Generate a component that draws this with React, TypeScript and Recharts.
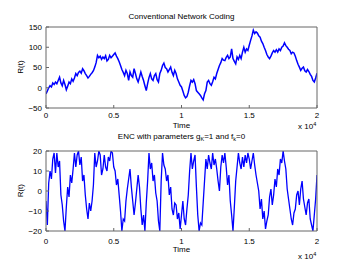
import React from 'react';
import { LineChart, Line, XAxis, YAxis } from 'recharts';

const TIME_STEP = 100;

const conventional = [
  -15, -8, 0, 5, 2, 12, 8, 14, 10, 18,
  26, 12, 5, 18, 8, -5, 4, 14, 10, 22,
  16, 24, 35, 30, 38, 41, 36, 47, 42, 35,
  30, 24, 28, 33, 37, 42, 51, 62, 80, 74,
  78, 70, 76, 72, 79, 66, 70, 80, 74, 78,
  82, 86, 78, 72, 64, 55, 45, 38, 30, 43,
  35, 18, 39, 30, 26, 47, 35, 22, 14, 26,
  39, 28, 18, 5, -7, 10, 25, 35, 22, 18,
  30, 35, 20, 14, 35, 43, 55, 61, 50, 47,
  39, 45, 51, 38, 30, 43, 35, 22, 14, 6,
  2, -8, -19, -25, -22, -11, 5, 18, 14, 20,
  10, -7, -11, -15, -19, -25, -30, -15, -7, 14,
  18, 10, 6, 15, 26, 22, 35, 45, 55, 62,
  72, 68, 67, 75, 80, 72, 76, 96, 72, 65,
  59, 76, 70, 80, 72, 88, 100, 88, 96, 92,
  105, 117, 128, 142, 134, 138, 135, 128, 125, 115,
  109, 100, 92, 82, 76, 72, 78, 86, 92, 88,
  94, 88, 96, 92, 100, 103, 111, 104, 100, 95,
  92, 84, 88, 86, 78, 67, 58, 51, 43, 48,
  51, 42, 39, 45, 40, 33, 28, 18, 14, 24,
  36,
];

const enc = [
  -5, -17, 4, 10, 6, 16, 19, 9, 19, 12,
  15, -2, -7, -15, -20, -8, 2, -3, 8, 4,
  11, 19, 12, 18, 20, 13, 17, 5, 8, -2,
  -9, -14, -6, -10, -5, 3, 19, 12, 15, 20,
  18, 8, 11, 18, 12, 10, 17, 15, 20, 19,
  12, 10, 3, 6, -2, -10, -20, -14, -15, -5,
  1, 6, 11, 2, -5, -12, -6, 1, 8, 2,
  -9, -17, -12, -20, -6, 5, 19, 11, 14, 5,
  8, -1, -5, -15, -20, 5, 19, 13, 11, 5,
  8, -2, 2, -9, -12, -6, -7, -14, -11, -19,
  -12, -5, -14, -17, -9, -2, 10, 19, 11, 15,
  18, 2, -12, -20, -16, -17, -6, 5, 16, 11,
  18, 14, 11, 19, 13, 16, 11, 5, 0, 12,
  18, 14, 19, 12, 3, 8, -5, -12, -20, -8,
  5, 12, 19, 14, 11, 17, 12, 18, 14, 19,
  16, 11, 15, 19, 13, 8, 4, 0, -9, -4,
  -14, -10, -19, -15, -12, -3, 1, -7, -2, 6,
  2, 11, 8, 16, 14, 20, 15, 11, 1, -4,
  -9, -14, -17, -11, -9, -2, 0, -7, 1, 5,
  -4, -8, -12, -6, -4, -14, -17, -20, -12, -4,
  8,
];

const xTicks = [0, 5000, 10000, 15000, 20000];
const xTickLabels = ['0', '0.5', '1', '1.5', '2'];
const yTicksTop = [-50, 0, 50, 100, 150];
const yTicksBottom = [-20, -10, 0, 10, 20];

const topData = conventional.map((v, i) => ({ t: i * TIME_STEP, r: v }));
const bottomData = enc.map((v, i) => ({ t: i * TIME_STEP, r: v }));

const FONT = 'Liberation Sans, Arial, Helvetica, sans-serif';
const AXIS = '#666';
const tickStyle = { fontSize: 8, fill: '#000', fontFamily: FONT };

const fmtX = (v: number) => xTickLabels[xTicks.indexOf(v)] ?? String(v);
const fmtY = (v: number) => String(v).replace('-', '\u2212');

function Panel(props: {
  data: { t: number; r: number }[];
  yTicks: number[];
  height: number;
  marginTop: number;
  marginBottom: number;
  xTickMargin: number;
  lineWidth: number;
}) {
  const { data, yTicks, height, marginTop, marginBottom, xTickMargin, lineWidth } = props;
  const yDomain = [yTicks[0], yTicks[yTicks.length - 1]];
  return (
    <LineChart
      width={350}
      height={height}
      data={data}
      margin={{ top: marginTop - 1, right: 32, bottom: marginBottom - 1, left: 45 }}
    >
      <XAxis
        xAxisId="b"
        dataKey="t"
        type="number"
        domain={[0, 20000]}
        ticks={xTicks}
        interval={0}
        tickFormatter={fmtX}
        height={1}
        tickSize={-3}
        tickMargin={xTickMargin}
        stroke={AXIS}
        tick={tickStyle}
        allowDataOverflow
      />
      <XAxis
        xAxisId="t"
        orientation="top"
        dataKey="t"
        type="number"
        domain={[0, 20000]}
        ticks={xTicks}
        interval={0}
        height={1}
        tickSize={-3}
        stroke={AXIS}
        tick={false}
        allowDataOverflow
      />
      <YAxis
        yAxisId="l"
        type="number"
        domain={yDomain}
        ticks={yTicks}
        interval={0}
        tickFormatter={fmtY}
        width={1}
        tickSize={-3}
        tickMargin={7}
        stroke={AXIS}
        tick={tickStyle}
        allowDataOverflow
      />
      <YAxis
        yAxisId="r"
        orientation="right"
        type="number"
        domain={yDomain}
        ticks={yTicks}
        interval={0}
        width={1}
        tickSize={-3}
        stroke={AXIS}
        tick={false}
        allowDataOverflow
      />
      <Line
        xAxisId="b"
        yAxisId="l"
        type="linear"
        dataKey="r"
        stroke="#0000ff"
        strokeWidth={lineWidth}
        strokeLinejoin="miter"
        dot={false}
        isAnimationActive={false}
      />
    </LineChart>
  );
}

export default function App() {
  return (
    <div style={{ position: 'absolute', left: 0, top: 0, width: 350, height: 264, background: '#fff' }}>
      <div style={{ position: 'absolute', left: 0, top: 0 }}>
        <Panel data={topData} yTicks={yTicksTop} height={132} marginTop={27} marginBottom={24} xTickMargin={7} lineWidth={1.5} />
      </div>
      <div style={{ position: 'absolute', left: 0, top: 124 }}>
        <Panel data={bottomData} yTicks={yTicksBottom} height={140} marginTop={27} marginBottom={33} xTickMargin={10} lineWidth={1.3} />
      </div>
      <svg
        width={350}
        height={264}
        style={{ position: 'absolute', left: 0, top: 0, pointerEvents: 'none' }}
        fontFamily={FONT}
        fontSize={8}
        fill="#000"
      >
        <text x={181.5} y={18.5} textAnchor="middle">Conventional Network Coding</text>
        <text x={181.5} y={127.5} textAnchor="middle">Time</text>
        <text x={298} y={128.7}>
          x 10<tspan fontSize={5.5} dy={-3}>4</tspan>
        </text>
        <text transform="translate(23,67) rotate(-90)" textAnchor="middle">R(t)</text>

        <text x={181.5} y={138.7} textAnchor="middle">
          ENC with parameters g<tspan fontSize={5.5} dy={2.5}>K</tspan>
          <tspan dy={-2.5}>=1 and f</tspan>
          <tspan fontSize={5.5} dy={2.5}>k</tspan>
          <tspan dy={-2.5}>=0</tspan>
        </text>
        <text x={181.5} y={251.7} textAnchor="middle">Time</text>
        <text x={298} y={258.5}>
          x 10<tspan fontSize={5.5} dy={-3}>4</tspan>
        </text>
        <text transform="translate(23,190.7) rotate(-90)" textAnchor="middle">R(t)</text>
      </svg>
    </div>
  );
}
